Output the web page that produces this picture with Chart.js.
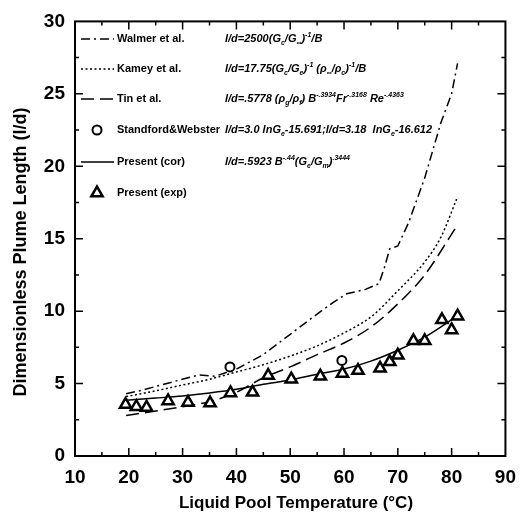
<!DOCTYPE html>
<html>
<head>
<meta charset="utf-8">
<script src="https://cdn.jsdelivr.net/npm/chart.js@4.4.0/dist/chart.umd.min.js"></script>
<style>
  html, body { margin: 0; padding: 0; background: #fff; }
  canvas { display: block; }
</style>
</head>
<body>
<canvas id="myChart" width="526" height="520"></canvas>
<script>
// experimental points (triangles)
const tempExp = [19.4, 21.4, 23.3, 27.3, 31.0, 35.1, 38.9, 43.0, 45.9, 50.2, 55.6, 59.7, 62.6, 66.7, 68.5, 70.0, 72.9, 75.0, 78.2, 80.0, 81.1];
const plumeExp = [3.55, 3.4, 3.35, 3.8, 3.7, 3.65, 4.35, 4.4, 5.55, 5.3, 5.5, 5.7, 5.9, 6.05, 6.5, 6.95, 7.95, 7.95, 9.4, 8.7, 9.65];

// Standford & Webster (circles)
const tempSW = [38.8, 59.6];
const plumeSW = [6.15, 6.6];

// Present (cor) - solid
const tempCor = [19.5, 25, 30, 35, 40, 45, 50, 55, 60, 65, 70, 75, 81.2];
const plumeCor = [3.85, 4.0, 4.15, 4.35, 4.6, 4.95, 5.25, 5.65, 6.0, 6.55, 7.3, 8.2, 9.7];

// Tin et al. - long dash
const tempTin = [19.5, 25, 30, 35, 40, 45, 50, 55, 60, 65, 70, 75, 81];
const plumeTin = [2.8, 3.1, 3.4, 3.75, 4.4, 5.4, 6.15, 7.0, 7.8, 8.9, 10.5, 12.5, 15.9];

// Kamey et al. - dotted
const tempKamey = [19.5, 25, 30, 35, 40, 45, 50, 55, 60, 65, 70, 75, 78, 81];
const plumeKamey = [4.1, 4.5, 4.9, 5.3, 5.8, 6.3, 6.9, 7.6, 8.5, 9.6, 11.4, 13.4, 15.1, 17.8];

// Walmer et al. - dash dot
const tempWalmer = [19.5, 22, 25, 28, 31, 33, 36, 40, 45, 50, 55, 58, 60.5, 64, 66.5, 67.5, 68.5, 70, 72, 75, 78, 80, 81.1];
const plumeWalmer = [4.3, 4.5, 4.8, 5.1, 5.4, 5.6, 5.5, 6.0, 7.0, 8.4, 9.8, 10.6, 11.2, 11.5, 11.9, 13.0, 14.3, 14.5, 16.1, 19.2, 23.0, 25.0, 27.1];

const xTicks = [10, 20, 30, 40, 50, 60, 70, 80, 90];
const yTicks = [0, 5, 10, 15, 20, 25, 30];

const legendLabels = ["Walmer et al.", "Kamey et al.", "Tin et al.", "Standford&Webster", "Present (cor)", "Present (exp)"];
const legendEqs = [
  "l/d=2500(G_{c}/G_{\u221e})^{-1}/B",
  "l/d=17.75(G_{c}/G_{e})^{-1} (\u03c1_{\u221e}/\u03c1_{c})^{-1}/B",
  "l/d=.5778 (\u03c1_{g}/\u03c1_{f}) B^{-.3934}Fr^{-.3168} Re^{-.4363}",
  "l/d=3.0 lnG_{e}-15.691;l/d=3.18  lnG_{e}-16.612",
  "l/d=.5923 B^{-.44}(G_{e}/G_{m})^{.3444}",
  ""
];

const FONT = "'Liberation Sans', Arial, sans-serif";
const NARROW = "'Liberation Sans Narrow', 'Liberation Sans', Arial, sans-serif";

const walmerDash = [9, 4, 2, 4];
const kameyDash = [2, 2.5];
const tinDash = [13, 6];

function pts(xs, ys) {
  return xs.map((x, i) => ({ x: x, y: ys[i] }));
}

function drawRich(ctx, text, x, y, size) {
  let i = 0;
  while (i < text.length) {
    let c = text[i];
    if ((c === "_" || c === "^") && text[i + 1] === "{") {
      let end = text.indexOf("}", i);
      let part = text.slice(i + 2, end);
      ctx.font = `italic bold ${Math.round(size * 0.65)}px ${NARROW}`;
      let dy = c === "_" ? size * 0.35 : -size * 0.4;
      ctx.fillText(part, x, y + dy);
      x += ctx.measureText(part).width;
      i = end + 1;
    } else {
      let j = i;
      while (j < text.length && !((text[j] === "_" || text[j] === "^") && text[j + 1] === "{")) j++;
      let part = text.slice(i, j);
      ctx.font = `italic bold ${size}px ${NARROW}`;
      ctx.fillText(part, x, y);
      x += ctx.measureText(part).width;
      i = j;
    }
  }
}

const framePlugin = {
  id: "frame",
  afterDraw(chart) {
    const ctx = chart.ctx;
    const a = chart.chartArea;
    const xs = chart.scales.x;
    const ys = chart.scales.y;
    ctx.save();
    ctx.strokeStyle = "#000";
    ctx.lineWidth = 2;
    ctx.setLineDash([]);
    ctx.strokeRect(a.left, a.top, a.right - a.left, a.bottom - a.top);

    // inward ticks on all four sides
    ctx.lineWidth = 1.5;
    ctx.beginPath();
    for (let v = 15; v < 90; v += 5) {
      const px = xs.getPixelForValue(v);
      const len = v % 10 === 0 ? 8 : 4;
      ctx.moveTo(px, a.bottom); ctx.lineTo(px, a.bottom - len);
      ctx.moveTo(px, a.top); ctx.lineTo(px, a.top + len);
    }
    for (let v = 2.5; v < 30; v += 2.5) {
      const py = ys.getPixelForValue(v);
      const len = v % 5 === 0 ? 8 : 4;
      ctx.moveTo(a.left, py); ctx.lineTo(a.left + len, py);
      ctx.moveTo(a.right, py); ctx.lineTo(a.right - len, py);
    }
    ctx.stroke();

    // axis titles
    ctx.fillStyle = "#000";
    ctx.textAlign = "center";
    ctx.textBaseline = "middle";
    ctx.font = `bold 17px ${FONT}`;
    ctx.fillText("Liquid Pool Temperature (\u00b0C)", 296, 503);
    ctx.save();
    ctx.translate(21, 252);
    ctx.rotate(-Math.PI / 2);
    ctx.font = `bold 18px ${FONT}`;
    ctx.fillText("Dimensionless Plume Length (l/d)", 0, 0);
    ctx.restore();

    // legend
    const rowY = [39, 69, 99, 130, 162, 193];
    const dashes = [walmerDash, kameyDash, tinDash, null, [], null];
    ctx.textAlign = "left";
    for (let i = 0; i < legendLabels.length; i++) {
      const y = rowY[i];
      ctx.strokeStyle = "#000";
      ctx.fillStyle = "#fff";
      if (i === 3) {
        ctx.lineWidth = 2;
        ctx.setLineDash([]);
        Chart.helpers.drawPoint(ctx, { pointStyle: "circle", radius: 4.5, borderWidth: 2 }, 97, y);
      } else if (i === 5) {
        ctx.lineWidth = 2.5;
        ctx.setLineDash([]);
        Chart.helpers.drawPoint(ctx, { pointStyle: "triangle", radius: 6.5, borderWidth: 2.5 }, 97, y);
      } else {
        ctx.lineWidth = 1.3;
        ctx.setLineDash(dashes[i]);
        ctx.beginPath();
        ctx.moveTo(81, y); ctx.lineTo(114, y);
        ctx.stroke();
      }
      ctx.setLineDash([]);
      ctx.fillStyle = "#000";
      ctx.font = `bold 11px ${NARROW}`;
      ctx.fillText(legendLabels[i], 117, y);
      if (legendEqs[i]) {
        drawRich(ctx, legendEqs[i], 225, y, 11);
      }
    }
    ctx.restore();
  }
};

let myChart = new Chart(document.getElementById("myChart").getContext("2d"), {
  type: "line",
  data: {
    datasets: [
      {
        label: "Present (exp)",
        data: pts(tempExp, plumeExp),
        showLine: false,
        pointStyle: "triangle",
        pointRadius: 6.5,
        pointBorderWidth: 2.5,
        borderColor: "#000",
        backgroundColor: "#fff",
      },
      {
        label: "Standford&Webster",
        data: pts(tempSW, plumeSW),
        showLine: false,
        pointStyle: "circle",
        pointRadius: 4.5,
        pointBorderWidth: 2,
        borderColor: "#000",
        backgroundColor: "#fff",
      },
      {
        label: "Present (cor)",
        data: pts(tempCor, plumeCor),
        borderColor: "#000",
        borderWidth: 1.5,
        pointRadius: 0,
        tension: 0.4,
        cubicInterpolationMode: "monotone",
      },
      {
        label: "Tin et al.",
        data: pts(tempTin, plumeTin),
        borderColor: "#000",
        borderWidth: 1.5,
        borderDash: tinDash,
        pointRadius: 0,
        cubicInterpolationMode: "monotone",
      },
      {
        label: "Kamey et al.",
        data: pts(tempKamey, plumeKamey),
        borderColor: "#000",
        borderWidth: 1.5,
        borderDash: kameyDash,
        pointRadius: 0,
        cubicInterpolationMode: "monotone",
      },
      {
        label: "Walmer et al.",
        data: pts(tempWalmer, plumeWalmer),
        borderColor: "#000",
        borderWidth: 1.5,
        borderDash: walmerDash,
        pointRadius: 0,
        tension: 0,
      },
    ],
  },
  options: {
    responsive: false,
    animation: false,
    devicePixelRatio: 1,
    layout: { padding: { top: 17, right: 11, left: 0, bottom: 0 } },
    plugins: {
      legend: { display: false },
      tooltip: { enabled: false },
    },
    scales: {
      x: {
        type: "linear",
        min: 10,
        max: 90,
        afterBuildTicks: (scale) => {
          scale.ticks = xTicks.map((v) => ({ value: v }));
        },
        afterFit: (scale) => {
          scale.height = 64;
        },
        ticks: { color: "#000", font: { family: FONT, size: 19, weight: "bold" }, padding: 10 },
        grid: { display: false, drawTicks: false },
        border: { display: false },
      },
      y: {
        min: 0,
        max: 30,
        afterBuildTicks: (scale) => {
          scale.ticks = yTicks.map((v) => ({ value: v }));
        },
        afterFit: (scale) => {
          scale.width = 75;
        },
        ticks: { color: "#000", font: { family: FONT, size: 19, weight: "bold" }, padding: 10 },
        grid: { display: false, drawTicks: false },
        border: { display: false },
      },
    },
  },
  plugins: [framePlugin],
});
</script>
</body>
</html>
